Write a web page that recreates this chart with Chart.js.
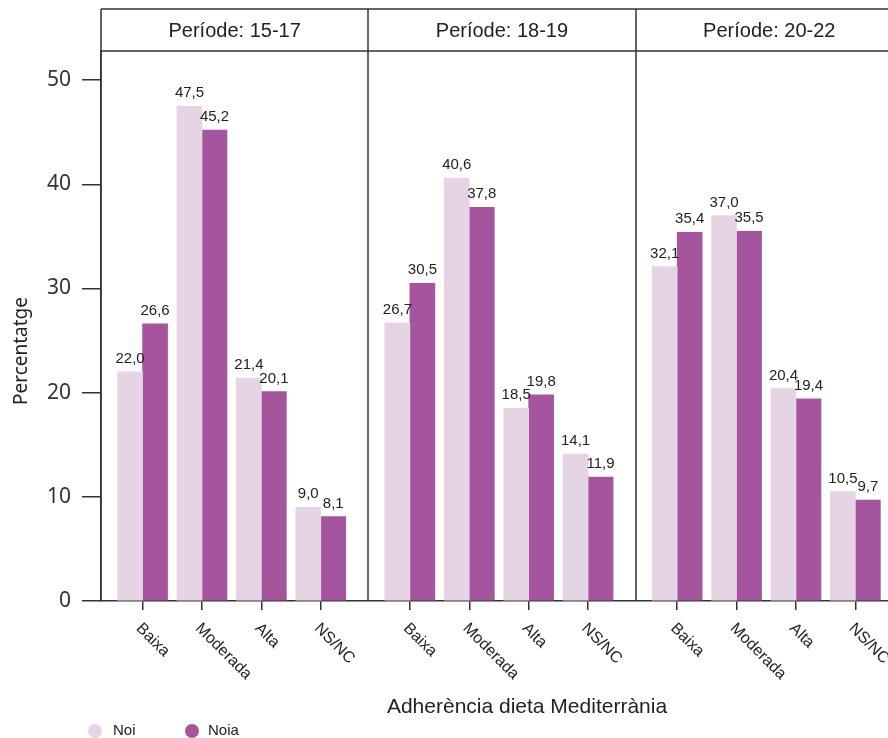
<!DOCTYPE html>
<html><head><meta charset="utf-8">
<script src="https://cdn.jsdelivr.net/npm/chart.js@4"></script>
<style>html,body{margin:0;padding:0;background:#fff;overflow:hidden}#wrap{position:relative;width:888px;height:738px}</style>
</head><body><div id="wrap"><canvas id="c" width="888" height="738"></canvas></div>
<script>
// ---- data ----
const categories = ['Baixa', 'Moderada', 'Alta', 'NS/NC'];
const periods = ['Període: 15-17', 'Període: 18-19', 'Període: 20-22'];
const noi_15_17  = [22.0, 47.5, 21.4, 9.0];
const noia_15_17 = [26.6, 45.2, 20.1, 8.1];
const noi_18_19  = [26.7, 40.6, 18.5, 14.1];
const noia_18_19 = [30.5, 37.8, 19.8, 11.9];
const noi_20_22  = [32.1, 37.0, 20.4, 10.5];
const noia_20_22 = [35.4, 35.5, 19.4, 9.7];
const seriesNames = ['Noi', 'Noia'];
const yTicks = [0, 10, 20, 30, 40, 50];
const xTitle = 'Adherència dieta Mediterrània';
const yTitle = 'Percentatge';

// ---- layout helpers ----
const PANEL_STEP = 4.5;     // category units per facet panel
const PANEL_LEFT = -0.7;    // panel edge relative to first category
const noiAll = [noi_15_17, noi_18_19, noi_20_22];
const noiaAll = [noia_15_17, noia_18_19, noia_20_22];
const positions = [];
periods.forEach((p, pi) => categories.forEach((c, ci) => positions.push(pi * PANEL_STEP + ci)));
function toPoints(all) {
  const out = [];
  all.forEach((arr, pi) => arr.forEach((v, ci) => out.push({x: pi * PANEL_STEP + ci, y: v})));
  return out;
}
const COL_NOI = '#e5d4e4', COL_NOIA = '#a5559e', INK = '#333', TXT = '#222';
const SANS = '"Liberation Sans", Arial, sans-serif';

const facetPlugin = {
  id: 'facet',
  afterDatasetsDraw(chart) {
    const ctx = chart.ctx;
    ctx.save();
    ctx.fillStyle = TXT;
    ctx.font = '15px ' + SANS;
    ctx.textAlign = 'center';
    ctx.textBaseline = 'alphabetic';
    chart.data.datasets.forEach((ds, di) => {
      const meta = chart.getDatasetMeta(di);
      meta.data.forEach((bar, i) => {
        const v = ds.data[i].y;
        ctx.fillText(v.toFixed(1).replace('.', ','), bar.x, bar.y - 9);
      });
    });
    ctx.restore();
  },
  afterDraw(chart) {
    const ctx = chart.ctx;
    const xs = chart.scales.x, ca = chart.chartArea;
    const top = 9;
    ctx.save();
    ctx.strokeStyle = INK;
    ctx.lineWidth = 1.5;
    // header strip
    ctx.beginPath();
    ctx.moveTo(ca.left, top); ctx.lineTo(ca.right, top);
    ctx.moveTo(ca.left, ca.top); ctx.lineTo(ca.right, ca.top);
    for (let k = 0; k <= periods.length; k++) {
      const px = Math.round(xs.getPixelForValue(PANEL_LEFT + k * PANEL_STEP));
      ctx.moveTo(px, top); ctx.lineTo(px, ca.bottom);
    }
    ctx.stroke();
    // header labels
    ctx.fillStyle = TXT;
    ctx.font = '20px ' + SANS;
    ctx.textAlign = 'center';
    ctx.textBaseline = 'middle';
    periods.forEach((p, k) => {
      const l = xs.getPixelForValue(PANEL_LEFT + k * PANEL_STEP);
      const r = xs.getPixelForValue(PANEL_LEFT + (k + 1) * PANEL_STEP);
      ctx.fillText(p, (l + r) / 2, (top + ca.top) / 2 + 1);
    });
    // rotated category labels
    ctx.font = '16px ' + SANS;
    ctx.textAlign = 'left';
    ctx.textBaseline = 'middle';
    periods.forEach((p, pi) => categories.forEach((c, ci) => {
      const px = xs.getPixelForValue(pi * PANEL_STEP + ci);
      ctx.save();
      ctx.translate(px - 4, ca.bottom + 25);
      ctx.rotate(Math.PI / 4);
      ctx.fillText(c, 0, 0);
      ctx.restore();
    }));
    // x title
    ctx.font = '21px ' + SANS;
    ctx.textAlign = 'center';
    ctx.fillText(xTitle, 527, 707);
    // y title
    ctx.save();
    ctx.font = '19px "Noto Sans", sans-serif';
    ctx.translate(22, 351);
    ctx.rotate(-Math.PI / 2);
    ctx.fillText(yTitle, 0, 0);
    ctx.restore();
    // legend
    ctx.font = '15px ' + SANS;
    ctx.textAlign = 'left';
    const leg = [{cx: 95, tx: 113, col: COL_NOI}, {cx: 192, tx: 208, col: COL_NOIA}];
    leg.forEach((L, i) => {
      ctx.fillStyle = L.col;
      ctx.beginPath(); ctx.arc(L.cx, 731, 7, 0, Math.PI * 2); ctx.fill();
      ctx.fillStyle = TXT;
      ctx.fillText(seriesNames[i], L.tx, 731);
    });
    ctx.restore();
  }
};

new Chart(document.getElementById('c'), {
  type: 'bar',
  data: {
    datasets: [
      {label: seriesNames[0], data: toPoints(noiAll), backgroundColor: COL_NOI, barThickness: 25},
      {label: seriesNames[1], data: toPoints(noiaAll), backgroundColor: COL_NOIA, barThickness: 25}
    ]
  },
  options: {
    responsive: false,
    animation: false,
    devicePixelRatio: 1,
    layout: {padding: {top: 51, left: 0, right: 0, bottom: 0}},
    plugins: {legend: {display: false}, tooltip: {enabled: false}},
    scales: {
      x: {
        type: 'linear',
        offset: false,
        min: PANEL_LEFT,
        max: PANEL_LEFT + 787 / 59.4,
        afterBuildTicks: s => { s.ticks = positions.map(v => ({value: v})); },
        afterFit: s => { s.height = 137; },
        ticks: {display: false},
        grid: {offset: false, drawOnChartArea: false, drawTicks: true, tickLength: 9, color: INK, lineWidth: 1.5},
        border: {display: true, color: INK, width: 1.5}
      },
      y: {
        min: 0,
        max: 52.8,
        afterBuildTicks: s => { s.ticks = yTicks.map(v => ({value: v})); },
        afterFit: s => { s.width = 101; },
        ticks: {color: INK, padding: 11, font: {family: '"Noto Sans", sans-serif', size: 21}},
        grid: {drawOnChartArea: false, drawTicks: true, tickLength: 19, color: INK, lineWidth: 1.5},
        border: {display: true, color: INK, width: 1.5}
      }
    }
  },
  plugins: [facetPlugin]
});
</script></body></html>
